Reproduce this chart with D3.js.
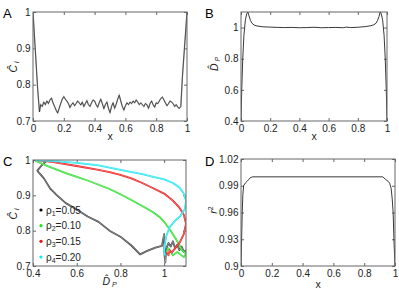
<!DOCTYPE html>
<html><head><meta charset="utf-8">
<script src="https://cdn.jsdelivr.net/npm/d3@7"></script>
<style>
body{margin:0;background:#fff}
text{font-family:"Liberation Sans",Arial,Helvetica,sans-serif}
</style></head>
<body>
<svg id="chart" width="399" height="296"></svg>
<script>
// ---------- data ----------
const xTicks01 = [0, 0.2, 0.4, 0.6, 0.8, 1];
const aYTicks = [0.7, 0.8, 0.9, 1];
const bYTicks = [0.4, 0.6, 0.8, 1];
const cXTicks = [0.4, 0.6, 0.8, 1];
const cYTicks = [0.7, 0.8, 0.9, 1];
const dYTicks = [0.9, 0.93, 0.96, 0.99, 1.02];

// Panel A: C_i vs x
const seriesA = [[0,1.0],[0.01,0.93],[0.02,0.86],[0.03,0.79],[0.042,0.725],[0.05,0.745],[0.06,0.74],[0.07,0.752],[0.08,0.745],[0.09,0.755],[0.1,0.748],[0.11,0.758],[0.12,0.763],[0.13,0.75],[0.14,0.74],[0.15,0.73],[0.16,0.722],[0.17,0.735],[0.18,0.748],[0.19,0.76],[0.2,0.767],[0.21,0.76],[0.22,0.755],[0.23,0.748],[0.24,0.737],[0.25,0.745],[0.26,0.75],[0.27,0.742],[0.28,0.748],[0.29,0.755],[0.3,0.75],[0.31,0.744],[0.32,0.752],[0.33,0.74],[0.34,0.748],[0.35,0.756],[0.36,0.745],[0.37,0.74],[0.38,0.75],[0.39,0.758],[0.4,0.755],[0.41,0.745],[0.42,0.738],[0.43,0.75],[0.44,0.76],[0.45,0.748],[0.46,0.734],[0.47,0.745],[0.48,0.752],[0.49,0.735],[0.5,0.723],[0.51,0.74],[0.52,0.75],[0.53,0.735],[0.54,0.746],[0.55,0.76],[0.56,0.771],[0.57,0.755],[0.58,0.74],[0.59,0.73],[0.6,0.742],[0.61,0.75],[0.62,0.745],[0.63,0.752],[0.64,0.748],[0.65,0.755],[0.66,0.75],[0.67,0.758],[0.68,0.752],[0.69,0.745],[0.7,0.75],[0.71,0.745],[0.72,0.74],[0.73,0.748],[0.74,0.745],[0.75,0.735],[0.76,0.748],[0.77,0.755],[0.78,0.745],[0.79,0.738],[0.8,0.75],[0.81,0.748],[0.82,0.755],[0.83,0.762],[0.84,0.766],[0.85,0.758],[0.86,0.75],[0.87,0.742],[0.88,0.748],[0.89,0.755],[0.9,0.752],[0.91,0.748],[0.92,0.74],[0.93,0.745],[0.94,0.738],[0.95,0.735],[0.96,0.74],[0.97,0.82],[0.98,0.88],[0.99,0.94],[1.0,1.0]];

// Panel B: D_P vs x
const seriesB = [[0,0.4],[0.005,0.6],[0.012,0.8],[0.02,0.95],[0.03,1.05],[0.04,1.09],[0.047,1.1],[0.055,1.075],[0.065,1.045],[0.075,1.028],[0.09,1.016],[0.11,1.01],[0.15,1.005],[0.2,1.003],[0.25,1.001],[0.3,1.0],[0.35,1.001],[0.4,0.999],[0.45,1.0],[0.5,1.002],[0.55,0.999],[0.6,1.0],[0.65,1.001],[0.7,0.999],[0.72,1.003],[0.75,1.0],[0.8,1.002],[0.85,1.006],[0.89,1.012],[0.91,1.018],[0.925,1.028],[0.935,1.045],[0.945,1.07],[0.953,1.1],[0.96,1.09],[0.97,1.05],[0.98,0.95],[0.988,0.8],[0.995,0.6],[1.0,0.4]];

// Panel C: C_i vs D_P for four rho values
const rhoLabels = ["0.05", "0.10", "0.15", "0.20"];
const rhoColors = ["#000000", "#22dd22", "#ee1111", "#11e5ee"];
const seriesC1 = [[0.465,1.0],[0.44,0.985],[0.42,0.97],[0.43,0.962],[0.45,0.948],[0.48,0.918],[0.51,0.9],[0.55,0.878],[0.6,0.86],[0.65,0.84],[0.7,0.825],[0.75,0.8],[0.8,0.783],[0.85,0.758],[0.89,0.733],[0.92,0.742],[0.96,0.752],[0.99,0.757],[1.0,0.79],[1.002,0.73],[1.005,0.71],[1.01,0.75],[1.02,0.765],[1.03,0.755],[1.04,0.77],[1.05,0.75],[1.06,0.76],[1.07,0.745],[1.08,0.755],[1.09,0.74],[1.1,0.745]];
const seriesC2 = [[0.41,0.998],[0.44,0.99],[0.47,0.982],[0.5,0.975],[0.55,0.963],[0.6,0.952],[0.65,0.942],[0.7,0.93],[0.75,0.918],[0.8,0.903],[0.85,0.887],[0.9,0.87],[0.95,0.852],[0.98,0.838],[1.0,0.825],[1.03,0.8],[1.05,0.78],[1.07,0.76],[1.08,0.745],[1.1,0.735],[1.09,0.725],[1.06,0.74],[1.04,0.73],[1.02,0.75],[1.01,0.74]];
const seriesC3 = [[0.42,1.0],[0.5,0.993],[0.6,0.983],[0.7,0.972],[0.75,0.966],[0.8,0.958],[0.85,0.948],[0.9,0.935],[0.95,0.92],[1.0,0.905],[1.04,0.885],[1.07,0.865],[1.09,0.845],[1.1,0.82],[1.09,0.79],[1.07,0.765],[1.05,0.75],[1.035,0.738],[1.025,0.745],[1.02,0.73],[1.01,0.74]];
const seriesC4 = [[0.41,1.0],[0.5,0.997],[0.6,0.992],[0.7,0.985],[0.8,0.972],[0.9,0.96],[0.95,0.952],[1.0,0.945],[1.04,0.935],[1.07,0.922],[1.09,0.905],[1.1,0.885],[1.095,0.862],[1.075,0.842],[1.05,0.828],[1.025,0.81],[1.01,0.785],[1.003,0.76],[1.0,0.74],[1.005,0.73]];

// Panel D: r^2 vs x
const seriesD = [[0,0.9],[0.004,0.93],[0.008,0.96],[0.012,0.98],[0.017,0.99],[0.028,0.993],[0.04,0.995],[0.05,0.997],[0.06,0.999],[0.075,1.0],[0.5,1.0],[0.92,1.0],[0.94,0.997],[0.955,0.995],[0.965,0.993],[0.975,0.987],[0.982,0.975],[0.988,0.96],[0.993,0.93],[1.0,0.9]];

// ---------- drawing ----------
const svg = d3.select("#chart");
const fmt = d => String(d);
const FONT = '"Liberation Sans",Arial,sans-serif';

function panel(o) {
  const x = d3.scaleLinear().domain(o.xd).range([o.l, o.r]);
  const y = d3.scaleLinear().domain(o.yd).range([o.b, o.t]);
  const g = svg.append("g");
  const ax = [
    [d3.axisBottom(x).tickValues(o.xt).tickFormat(fmt), `translate(0,${o.b})`],
    [d3.axisTop(x).tickValues(o.xt).tickFormat(""), `translate(0,${o.t})`],
    [d3.axisLeft(y).tickValues(o.yt).tickFormat(fmt), `translate(${o.l},0)`],
    [d3.axisRight(y).tickValues(o.yt).tickFormat(""), `translate(${o.r},0)`]
  ];
  ax.forEach(([a, tr], i) => {
    const s = g.append("g").attr("transform", tr)
      .call(a.tickSize(-3).tickPadding(i === 0 ? 4 : 2.5));
    s.select(".domain").remove();
    s.selectAll("line").attr("stroke", "#666");
    s.selectAll("text").attr("font-size", 10).attr("fill", "#222").attr("font-family", FONT);
  });
  const clipId = "clip" + o.letter;
  svg.append("clipPath").attr("id", clipId).append("rect")
    .attr("x", o.l).attr("y", o.t).attr("width", o.r - o.l).attr("height", o.b - o.t);
  const plot = g.append("g").attr("clip-path", `url(#${clipId})`);
  g.append("rect").attr("x", o.l).attr("y", o.t).attr("width", o.r - o.l).attr("height", o.b - o.t)
    .attr("fill", "none").attr("stroke", "#666").attr("stroke-width", 1);
  g.append("text").attr("x", o.lx).attr("y", o.ly).attr("font-size", 13).attr("fill", "#000").text(o.letter);
  return { x, y, g, plot };
}

function ylabel(g, cx, cy, build) {
  const t = g.append("text").attr("transform", `translate(${cx},${cy}) rotate(-90)`)
    .attr("text-anchor", "middle").attr("font-size", 10.5).attr("fill", "#222");
  build(t);
}

// Panel A
const pA = panel({ l: 33, r: 187, t: 12, b: 121, xd: [0, 1], yd: [0.7, 1], xt: xTicks01, yt: aYTicks, letter: "A", lx: 3, ly: 18 });
const lineA = d3.line().x(d => pA.x(d[0])).y(d => pA.y(d[1]));
pA.plot.append("path").datum(seriesA).attr("d", lineA).attr("fill", "none").attr("stroke", "#aaa").attr("stroke-width", 1.4);
pA.plot.append("path").datum(seriesA).attr("d", lineA).attr("fill", "none").attr("stroke", "#111").attr("stroke-width", 0.6);
pA.g.append("text").attr("x", (33 + 187) / 2).attr("y", 140).attr("text-anchor", "middle").attr("font-size", 10.5).attr("fill", "#222").text("x");
ylabel(pA.g, 17, 67, t => { t.append("tspan").attr("font-style", "italic").text("Ĉ"); t.append("tspan").attr("font-size", 7).attr("dy", 2).attr("font-style", "italic").text(" i"); });

// Panel B
const pB = panel({ l: 241, r: 387, t: 12, b: 121, xd: [0, 1], yd: [0.4, 1.1], xt: xTicks01, yt: bYTicks, letter: "B", lx: 205, ly: 18 });
const lineB = d3.line().x(d => pB.x(d[0])).y(d => pB.y(d[1]));
pB.plot.append("path").datum(seriesB).attr("d", lineB).attr("fill", "none").attr("stroke", "#222").attr("stroke-width", 0.9);
pB.g.append("text").attr("x", (241 + 387) / 2).attr("y", 140).attr("text-anchor", "middle").attr("font-size", 10.5).attr("fill", "#222").text("x");
ylabel(pB.g, 218, 64, t => { t.append("tspan").attr("font-style", "italic").text("D\u0302"); t.append("tspan").attr("font-size", 7).attr("dy", 2).attr("font-style", "italic").text(" P"); });

// Panel C
const pC = panel({ l: 33, r: 186, t: 160, b: 266, xd: [0.4, 1.1], yd: [0.7, 1], xt: cXTicks, yt: cYTicks, letter: "C", lx: 3, ly: 166 });
const lineC = d3.line().x(d => pC.x(d[0])).y(d => pC.y(d[1]));
[seriesC1, seriesC2, seriesC3, seriesC4].forEach((s, i) => {
  pC.plot.append("path").datum(s).attr("d", lineC).attr("fill", "none").attr("stroke", rhoColors[i])
    .attr("stroke-opacity", i === 0 ? 0.75 : 1).attr("stroke-width", 1.8).attr("stroke-linejoin", "round");
  pC.plot.append("path").datum(s).attr("d", lineC).attr("fill", "none").attr("stroke", "#fff").attr("stroke-opacity", 0.6).attr("stroke-width", 0.6);
});
const legY = d3.scalePoint().domain(rhoLabels).range([210, 257]);
rhoLabels.forEach((lab, i) => {
  pC.g.append("circle").attr("cx", 41).attr("cy", legY(lab)).attr("r", 1.6).attr("fill", rhoColors[i]);
  const t = pC.g.append("text").attr("x", 46).attr("y", legY(lab) + 3.5).attr("font-size", 10).attr("fill", "#222");
  t.append("tspan").text("ρ");
  t.append("tspan").attr("font-size", 7).attr("dy", 2).text(String(i + 1));
  t.append("tspan").attr("dy", -2).text("=" + lab);
});
pC.g.append("text").attr("x", (33 + 186) / 2).attr("y", 285).attr("text-anchor", "middle").attr("font-size", 10.5).attr("fill", "#222")
  .call(t => { t.append("tspan").attr("font-style", "italic").text("D\u0302"); t.append("tspan").attr("font-size", 7).attr("dy", 2).attr("font-style", "italic").text(" P"); });
ylabel(pC.g, 17, 214, t => { t.append("tspan").attr("font-style", "italic").text("Ĉ"); t.append("tspan").attr("font-size", 7).attr("dy", 2).attr("font-style", "italic").text(" i"); });

// Panel D
const pD = panel({ l: 241, r: 395, t: 159, b: 266, xd: [0, 1], yd: [0.9, 1.02], xt: xTicks01, yt: dYTicks, letter: "D", lx: 205, ly: 166 });
const lineD = d3.line().x(d => pD.x(d[0])).y(d => pD.y(d[1]));
pD.plot.append("path").datum(seriesD).attr("d", lineD).attr("fill", "none").attr("stroke", "#222").attr("stroke-width", 0.9);
pD.g.append("text").attr("x", (241 + 395) / 2).attr("y", 288).attr("text-anchor", "middle").attr("font-size", 10.5).attr("fill", "#222").text("x");
ylabel(pD.g, 217, 210, t => { t.append("tspan").attr("font-style", "italic").text("r"); t.append("tspan").attr("font-size", 7).attr("dy", -4).text("2"); });
</script>
</body></html>
